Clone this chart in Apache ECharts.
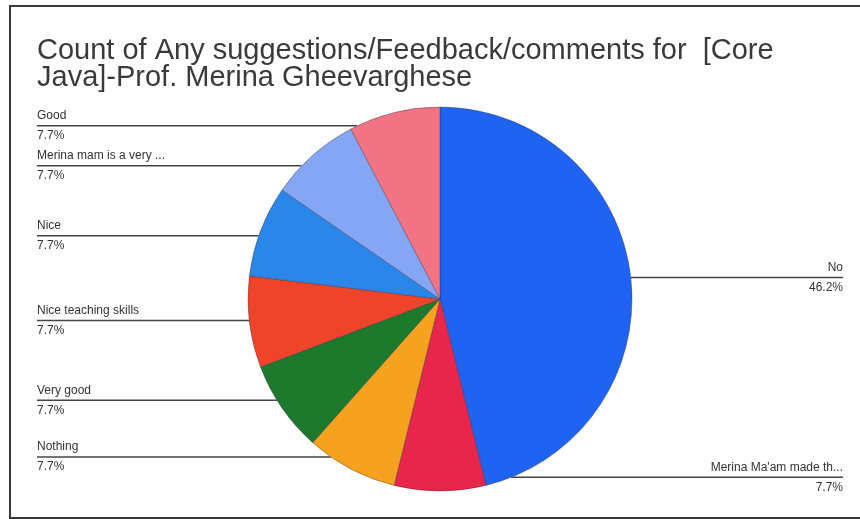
<!DOCTYPE html>
<html>
<head>
    <meta charset="utf-8" />
    <title>Core Java feedback</title>
    <script src="https://cdn.jsdelivr.net/npm/echarts@6/dist/echarts.min.js"></script>
    <style>
        body { margin: 0; background: #fff; }
        #frame { position: absolute; left: 9px; top: 5px; width: 860px; height: 510px; border: 2px solid #3a3a3a; border-right: none; }
        #main { position: absolute; left: 20px; top: 0; width: 840px; height: 519px; }
    </style>
</head>
<body>
    <div id="frame"></div>
    <div id="main"></div>
    <script>
        // responses, clockwise from 12 o'clock
        var names = ['No', "Merina Ma'am made th...", 'Nothing', 'Very good', 'Nice teaching skills', 'Nice', 'Merina mam is a very ...', 'Good'];
        var counts = [6, 1, 1, 1, 1, 1, 1, 1];
        var colors = ['#1f63f2', '#e8264c', '#f7a21f', '#1d7a2c', '#f0442a', '#2b86ea', '#84a6f4', '#f27383'];

        var pieCenter = [420, 299];
        var pieRadius = 192;
        var labelPull = 0.91;   // labels sit a bit closer to the middle, like sheets does

        var total = 0;
        for (var k = 0; k < counts.length; k++) total += counts[k];

        var myChart = echarts.init(document.getElementById('main'));
        var data = [];
        for (var i = 0; i < names.length; i++) {
            data.push({ name: names[i], value: counts[i], itemStyle: { color: colors[i] } });
        }

        var option = {
            title: {
                text: 'Count of Any suggestions/Feedback/comments for  [Core\nJava]-Prof. Merina Gheevarghese',
                left: 12,
                top: 32,
                textStyle: {
                    fontFamily: 'Liberation Sans',
                    fontSize: 29,
                    fontWeight: 'normal',
                    lineHeight: 27,
                    color: '#3a3a3a'
                }
            },
            series: [{
                type: 'pie',
                center: pieCenter,
                radius: pieRadius,
                startAngle: 90,
                clockwise: true,
                animation: false,
                itemStyle: { borderColor: 'rgba(40,40,60,0.35)', borderWidth: 1 },
                label: {
                    alignTo: 'edge',
                    edgeDistance: 17,
                    minMargin: 4,
                    formatter: function (p) {
                        return p.name + '\n' + (p.value / total * 100).toFixed(1) + '%';
                    },
                    fontFamily: 'Liberation Sans',
                    fontSize: 12,
                    lineHeight: 20,
                    color: '#333'
                },
                labelLine: {
                    length: 4,
                    length2: 0,
                    lineStyle: { color: '#444', width: 1.5 }
                },
                labelLayout: function (params) {
                    var r = params.labelRect;
                    var isLeft = r.x < myChart.getWidth() / 2;
                    var mid = r.y + r.height / 2;
                    var newMid = pieCenter[1] + (mid - pieCenter[1]) * labelPull;
                    var off = newMid - pieCenter[1];
                    var half = Math.sqrt(Math.max(pieRadius * pieRadius - off * off, 0));
                    var startX = isLeft ? pieCenter[0] - half : pieCenter[0] + half;
                    var endX = isLeft ? r.x : r.x + r.width;
                    return {
                        dy: newMid - mid,
                        labelLinePoints: [[startX, newMid], [startX, newMid], [endX, newMid]]
                    };
                },
                data: data
            }]
        };

        myChart.setOption(option);
    </script>
</body>
</html>
